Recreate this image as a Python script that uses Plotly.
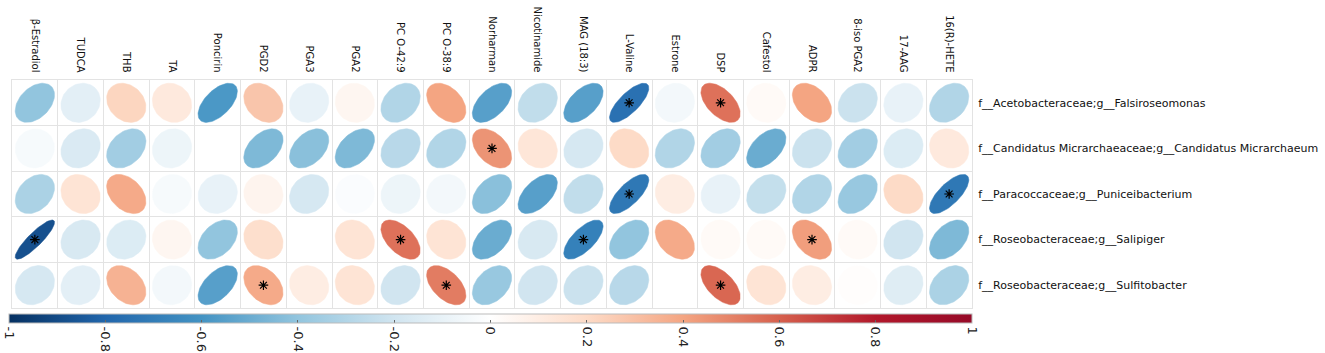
import numpy as np
import plotly.graph_objects as go
from plotly.colors import sample_colorscale

metabolites = ["β-Estradiol", "TUDCA", "THB", "TA", "Poncirin", "PGD2", "PGA3", "PGA2",
               "PC O-42:9", "PC O-38:9", "Norharman", "Nicotinamide", "MAG (18:3)",
               "L-Valine", "Estrone", "DSP", "Cafestol", "ADPR", "8-iso PGA2", "17-AAG",
               "16(R)-HETE"]

taxa = ["f__Acetobacteraceae;g__Falsiroseomonas",
        "f__Candidatus Micrarchaeaceae;g__Candidatus Micrarchaeum",
        "f__Paracoccaceae;g__Puniceibacterium",
        "f__Roseobacteraceae;g__Salipiger",
        "f__Roseobacteraceae;g__Sulfitobacter"]

r_falsiroseomonas = [-0.40, -0.12, 0.22, 0.12, -0.58, 0.28, -0.10, 0.05, -0.30, 0.40, -0.55,
                     -0.25, -0.55, -0.75, -0.05, 0.55, 0.03, 0.40, -0.22, -0.10, -0.30]
r_micrarchaeum = [-0.04, -0.16, -0.35, -0.08, 0.00, -0.45, -0.42, -0.45, -0.28, -0.30, 0.45,
                  0.14, -0.18, 0.20, -0.30, -0.35, -0.50, -0.22, -0.35, -0.15, 0.12]
r_puniceibacterium = [-0.32, 0.15, 0.38, -0.04, -0.10, 0.06, -0.18, -0.02, -0.08, -0.05, -0.42,
                      -0.55, -0.25, -0.72, 0.10, -0.10, -0.24, -0.30, -0.38, 0.20, -0.72]
r_salipiger = [-0.88, -0.17, -0.15, 0.05, -0.40, 0.18, 0.00, 0.15, 0.55, 0.15, -0.50,
               -0.17, -0.68, -0.40, 0.38, 0.03, 0.03, 0.42, 0.03, -0.20, -0.45]
r_sulfitobacter = [-0.18, -0.12, 0.35, -0.05, -0.55, 0.38, 0.10, 0.15, -0.20, 0.52, -0.38,
                   -0.20, -0.22, -0.28, 0.00, 0.58, 0.15, 0.10, 0.01, -0.14, -0.32]

sig_falsiroseomonas = [0]*13 + [1, 0, 1] + [0]*5
sig_micrarchaeum = [0]*10 + [1] + [0]*10
sig_puniceibacterium = [0]*13 + [1] + [0]*6 + [1]
sig_salipiger = [1] + [0]*7 + [1, 0, 0, 0, 1, 0, 0, 0, 0, 1, 0, 0, 0]
sig_sulfitobacter = [0]*5 + [1, 0, 0, 0, 1] + [0]*5 + [1] + [0]*5

corr = [r_falsiroseomonas, r_micrarchaeum, r_puniceibacterium, r_salipiger, r_sulfitobacter]
sig = [sig_falsiroseomonas, sig_micrarchaeum, sig_puniceibacterium, sig_salipiger, sig_sulfitobacter]

rdbu_r = [[0.0, "rgb(5,48,97)"], [0.1, "rgb(33,102,172)"], [0.2, "rgb(67,147,195)"],
          [0.3, "rgb(146,197,222)"], [0.4, "rgb(209,229,240)"], [0.5, "rgb(255,255,255)"],
          [0.6, "rgb(253,219,199)"], [0.7, "rgb(244,165,130)"], [0.8, "rgb(214,96,77)"],
          [0.9, "rgb(178,24,43)"], [1.0, "rgb(150,10,40)"]]

fig = go.Figure()
R = 0.43
k = np.linspace(0, 2*np.pi, 80)
for i, row in enumerate(corr):
    for j, r in enumerate(row):
        d = np.arccos(np.clip(r, -0.999, 0.999))
        ex = j + R*np.cos(k + d/2)
        ey = i + R*np.cos(k - d/2)
        col = sample_colorscale(rdbu_r, [(r + 1) / 2])[0]
        fig.add_trace(go.Scatter(x=ex, y=ey, mode="lines", fill="toself", fillcolor=col,
                                 line=dict(color=col, width=0.5), hoverinfo="skip",
                                 showlegend=False))

# colorbar carrier + hover
xs, ys, vs = [], [], []
for i, row in enumerate(corr):
    for j, r in enumerate(row):
        xs.append(j); ys.append(i); vs.append(r)
fig.add_trace(go.Scatter(
    x=xs, y=ys, mode="markers",
    marker=dict(size=20, opacity=0, color=vs, colorscale=rdbu_r, cmin=-1, cmax=1,
                showscale=True,
                colorbar=dict(orientation="h", x=-3/960, xanchor="left", lenmode="pixels",
                              len=963, thickness=9, y=-6/228, yanchor="top", ypad=0, xpad=0,
                              outlinewidth=1, outlinecolor="#bbbbbb",
                              tickvals=[-1, -0.8, -0.6, -0.4, -0.2, 0, 0.2, 0.4, 0.6, 0.8, 1],
                              ticktext=["-1", "-0.8", "-0.6", "-0.4", "-0.2", "0", "0.2", "0.4",
                                        "0.6", "0.8", "1"],
                              tickangle=90, ticks="inside", ticklen=3, tickcolor="#666666",
                              tickfont=dict(size=13, color="#222222"))),
    hovertemplate="%{customdata}<extra></extra>",
    customdata=[f"{taxa[y]}<br>{metabolites[x]}: {v:.2f}" for x, y, v in zip(xs, ys, vs)],
    showlegend=False))

sx, sy = [], []
for i, row in enumerate(sig):
    for j, s in enumerate(row):
        if s:
            sx.append(j); sy.append(i)
fig.add_trace(go.Scatter(x=sx, y=sy, mode="markers",
                         marker=dict(symbol="asterisk-open", size=8, color="black",
                                     line=dict(color="black", width=1.2)),
                         hoverinfo="skip", showlegend=False))

half = [v - 0.5 for v in range(len(metabolites) + 1)]
halfy = [v - 0.5 for v in range(len(taxa) + 1)]
fig.update_xaxes(range=[-0.5, len(metabolites) - 0.5], side="top", automargin=False,
                 tickvals=list(range(len(metabolites))), ticktext=metabolites,
                 tickangle=90, ticks="", ticklen=0, showgrid=False, zeroline=False,
                 tickfont=dict(family="DejaVu Sans", size=10, color="#111111"),
                 ticklabelstandoff=3,
                 minor=dict(tickmode="array", tickvals=half, showgrid=True,
                            gridcolor="#e3e3e3", gridwidth=1),
                 showline=True, mirror=True, linecolor="#e3e3e3", linewidth=1)
fig.update_yaxes(range=[len(taxa) - 0.5, -0.5], side="right", automargin=False,
                 tickvals=list(range(len(taxa))), ticktext=taxa,
                 ticks="", ticklen=0, showgrid=False, zeroline=False,
                 tickfont=dict(family="DejaVu Sans", size=11, color="#111111"),
                 ticklabelstandoff=3,
                 minor=dict(tickmode="array", tickvals=halfy, showgrid=True,
                            gridcolor="#e3e3e3", gridwidth=1),
                 showline=True, mirror=True, linecolor="#e3e3e3", linewidth=1)

fig.update_layout(width=1325, height=353,
                  margin=dict(l=12, r=353, t=80, b=45, autoexpand=False),
                  paper_bgcolor="white", plot_bgcolor="white",
                  font=dict(family="DejaVu Sans"))
fig.write_html("out.html", config={"displayModeBar": False},
               post_script="document.body.style.margin='0px';document.body.style.overflow='hidden';")
